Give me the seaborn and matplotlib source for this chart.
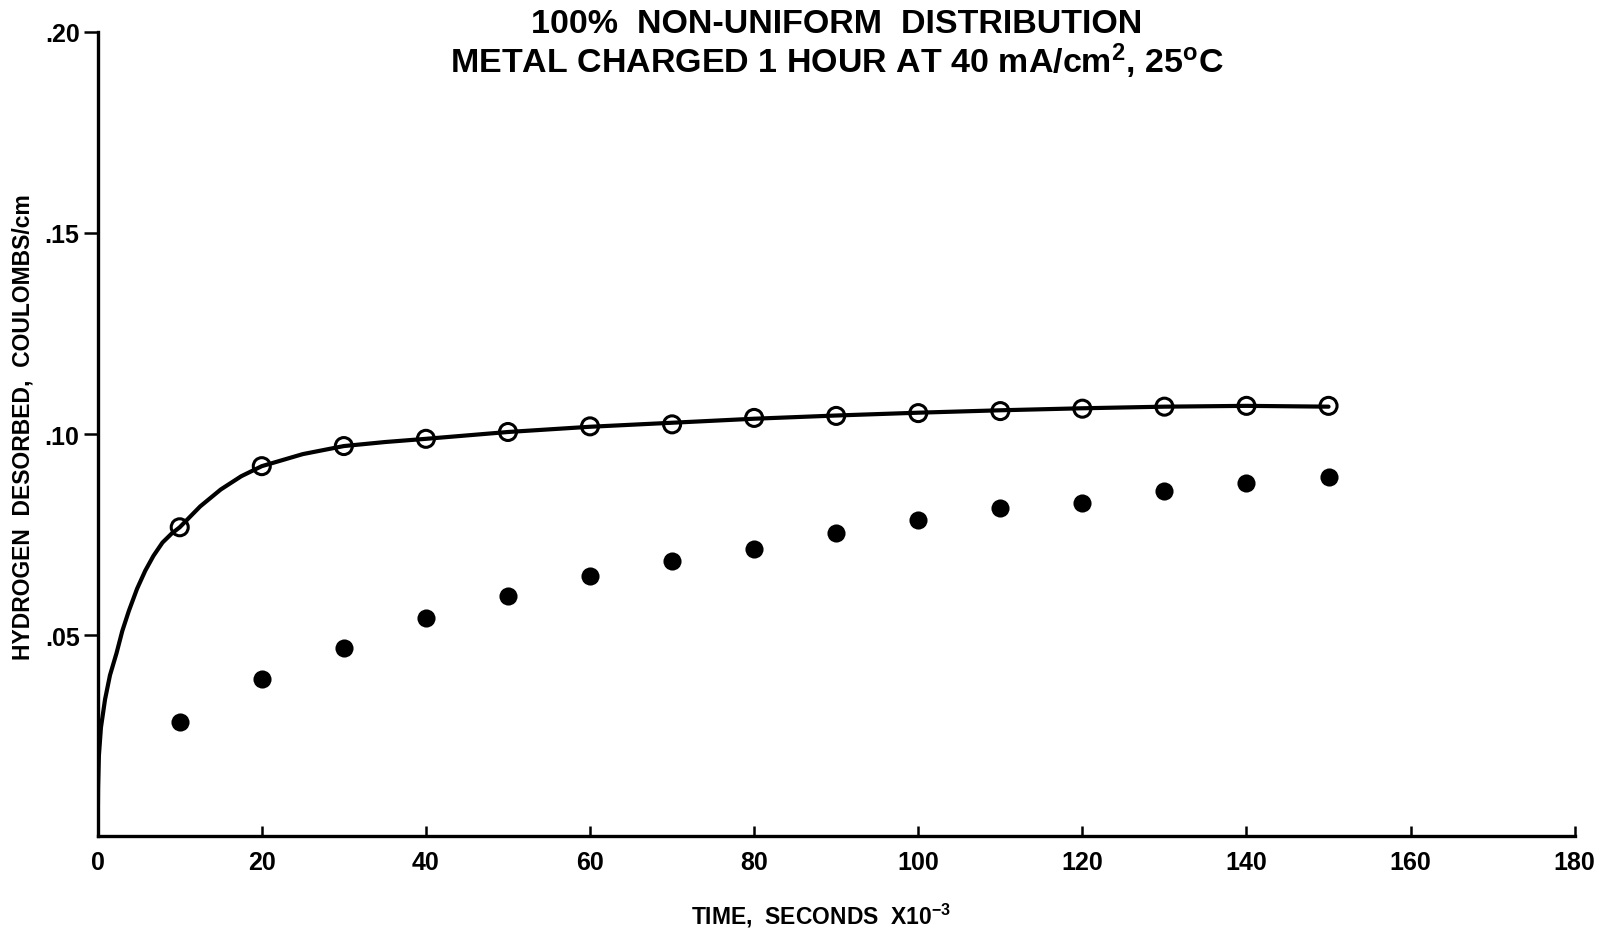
import numpy as np
import pandas as pd
import matplotlib
matplotlib.use('Agg')
import matplotlib.pyplot as plt
import seaborn as sns

# data
times = [10, 20, 30, 40, 50, 60, 70, 80, 90, 100, 110, 120, 130, 140, 150]
open_vals = [0.0768, 0.0920, 0.0970, 0.0988, 0.1005, 0.1019, 0.1024, 0.1040, 0.1045,
             0.1052, 0.1057, 0.1063, 0.1068, 0.1070, 0.1070]
filled_vals = [0.0284, 0.0391, 0.0467, 0.0542, 0.0598, 0.0646, 0.0685, 0.0715, 0.0754,
               0.0787, 0.0817, 0.0828, 0.0858, 0.0879, 0.0894]

curve_t = [0, 0.05, 0.15, 0.4, 0.9, 1.5, 2.3, 3.0, 3.8, 4.8, 5.8, 6.8, 7.9, 9.0, 10,
           12.5, 15, 17.5, 20, 25, 30, 35, 40, 50, 60, 70, 80, 90, 100, 110, 120,
           130, 140, 150]
curve_y = [0.0, 0.012, 0.020, 0.027, 0.034, 0.040, 0.0455, 0.0510, 0.0560, 0.0615,
           0.0660, 0.0697, 0.0730, 0.0752, 0.0768, 0.0820, 0.0862, 0.0895, 0.0920,
           0.0950, 0.0970, 0.0980, 0.0988, 0.1005, 0.1018, 0.1028, 0.1038, 0.1046,
           0.1053, 0.1059, 0.1064, 0.1068, 0.1070, 0.1068]

xticks = [0, 20, 40, 60, 80, 100, 120, 140, 160, 180]
yticks = [0.05, 0.10, 0.15, 0.20]
ytick_labels = ['.05', '.10', '.15', '.20']

sns.set_style('ticks')
plt.rcParams['font.family'] = ['Liberation Sans', 'DejaVu Sans']
plt.rcParams['font.weight'] = 'bold'
plt.rcParams['text.color'] = 'black'
plt.rcParams['axes.labelcolor'] = 'black'
plt.rcParams['axes.edgecolor'] = 'black'
plt.rcParams['xtick.color'] = 'black'
plt.rcParams['ytick.color'] = 'black'
plt.rcParams['mathtext.fontset'] = 'custom'
plt.rcParams['mathtext.rm'] = 'Liberation Sans:bold'
plt.rcParams['mathtext.bf'] = 'Liberation Sans:bold'
plt.rcParams['mathtext.default'] = 'rm'

fig = plt.figure(figsize=(16.09, 9.29), dpi=100)
ax = fig.add_axes([0.0607, 0.099, 0.918, 0.8655])

curve = pd.DataFrame({'t': curve_t, 'y': curve_y})
sns.lineplot(data=curve, x='t', y='y', ax=ax, color='black', linewidth=3.0)

pts_open = pd.DataFrame({'t': times, 'y': open_vals})
pts_filled = pd.DataFrame({'t': times, 'y': filled_vals})
sns.scatterplot(data=pts_open, x='t', y='y', ax=ax, marker='o', s=150,
                facecolor='none', edgecolor='black', linewidth=2.2, zorder=3)
sns.scatterplot(data=pts_filled, x='t', y='y', ax=ax, marker='o', s=170,
                color='black', edgecolor='black', linewidth=0, zorder=3)

ax.set_xlim(0, 180)
ax.set_ylim(0, 0.20)
sns.despine(ax=ax)
ax.spines['left'].set_linewidth(2.4)
ax.spines['bottom'].set_linewidth(2.4)

ax.set_xticks(xticks)
ax.set_xticklabels([str(v) for v in xticks])
ax.set_yticks(yticks)
ax.set_yticklabels(ytick_labels)
ax.tick_params(axis='x', direction='in', length=7, width=1.8, pad=10,
               labelsize=18)
ax.tick_params(axis='y', direction='out', length=10, width=1.8, pad=3,
               labelsize=18)
for lab in ax.get_xticklabels() + ax.get_yticklabels():
    lab.set_fontweight('bold')

ax.set_xlabel('TIME,  SECONDS  X10$^{-3}$', fontsize=16.5, fontweight='bold')
ax.xaxis.set_label_coords(0.49, -0.08)
ax.set_ylabel('HYDROGEN  DESORBED,  COULOMBS/cm', fontsize=16.5, fontweight='bold')
ax.yaxis.set_label_coords(-0.043, 0.51)

fig.text(0.52, 0.99, '100%  NON-UNIFORM  DISTRIBUTION\nMETAL CHARGED 1 HOUR AT 40 mA/cm$^2$, 25$^o$C',
         ha='center', va='top', fontsize=24.5, fontweight='bold', linespacing=1.05)

fig.savefig('out.png', dpi=100)
